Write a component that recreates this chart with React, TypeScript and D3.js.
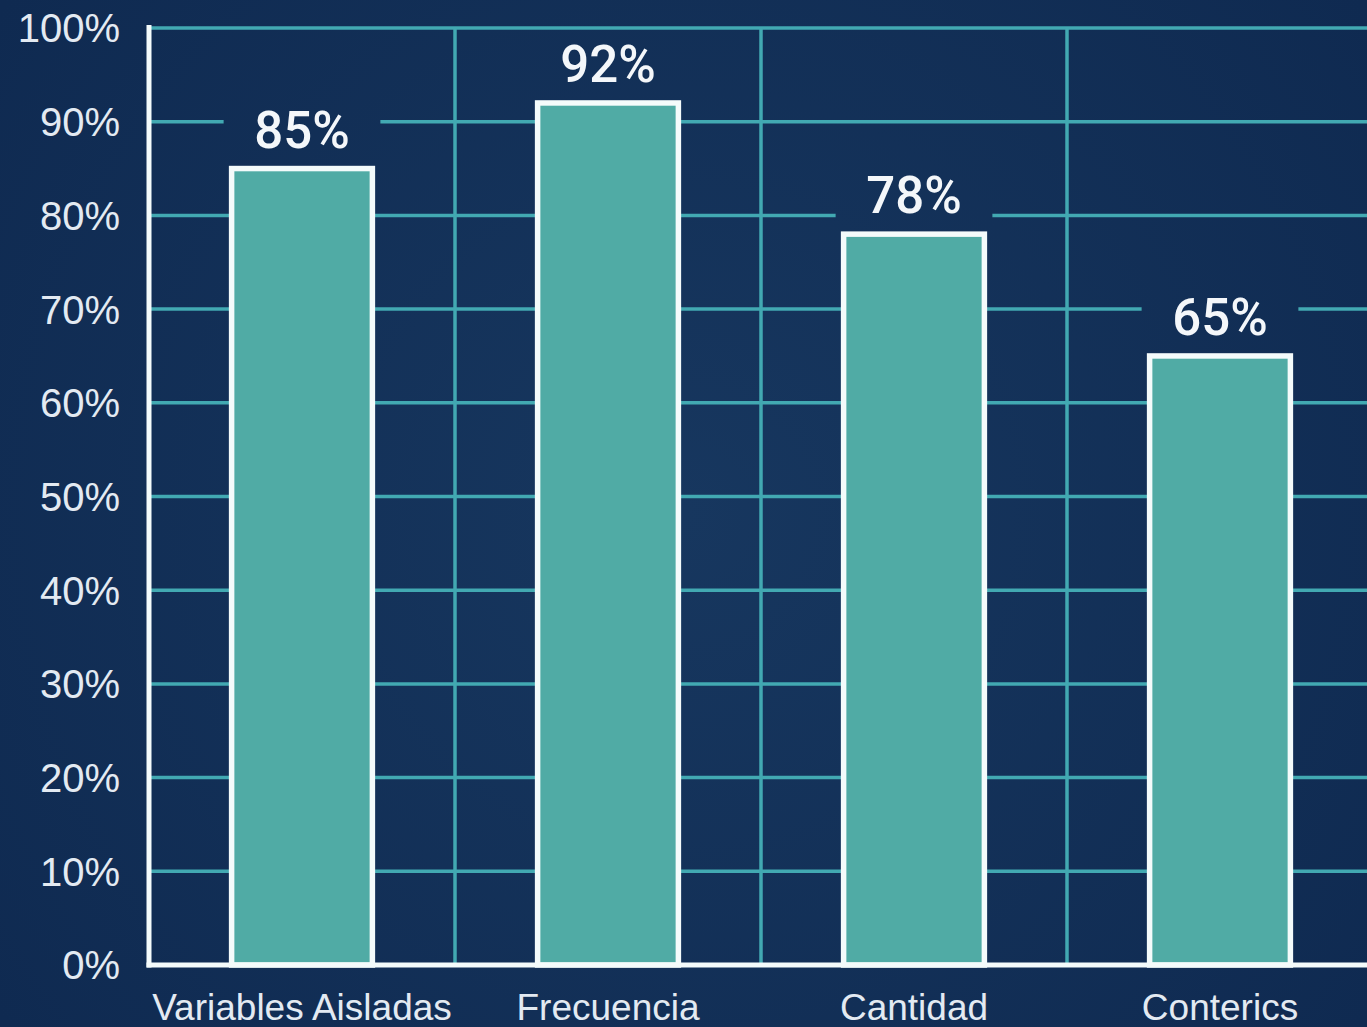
import React, { useEffect, useRef } from 'react';
import * as d3 from 'd3';

const categories = ['Variables Aisladas', 'Frecuencia', 'Cantidad', 'Conterics'];
const values = [85, 92, 78, 65];
const yTicks = [0, 10, 20, 30, 40, 50, 60, 70, 80, 90, 100];

const App: React.FC = () => {
  const svgRef = useRef<SVGSVGElement | null>(null);

  useEffect(() => {
    const width = 1367;
    const height = 1027;
    const margin = { top: 28, left: 149, bottom: 62 };
    const svg = d3.select(svgRef.current);
    svg.selectAll('*').remove();

    const grid = '#42a9b2';
    const font = '"Liberation Sans", Arial, sans-serif';

    // Background with a soft vignette (user space so label boxes match it)
    const defs = svg.append('defs');
    const grad = defs
      .append('radialGradient')
      .attr('id', 'bg')
      .attr('gradientUnits', 'userSpaceOnUse')
      .attr('cx', width / 2)
      .attr('cy', height / 2)
      .attr('r', 850);
    grad.append('stop').attr('offset', '0%').attr('stop-color', '#17375f');
    grad.append('stop').attr('offset', '100%').attr('stop-color', '#0f2a51');
    svg.append('rect').attr('width', width).attr('height', height).attr('fill', 'url(#bg)');

    const x = d3
      .scaleBand()
      .domain(categories)
      .range([margin.left, margin.left + 4 * 306])
      .paddingInner(0.54)
      .paddingOuter(0.27);

    const y = d3
      .scaleLinear()
      .domain([0, 100])
      .range([height - margin.bottom, margin.top]);

    const step = x.step();

    // Horizontal grid
    svg
      .append('g')
      .selectAll('line')
      .data(yTicks.filter((t) => t > 0))
      .join('line')
      .attr('x1', margin.left)
      .attr('x2', width)
      .attr('y1', (d) => y(d))
      .attr('y2', (d) => y(d))
      .attr('stroke', grid)
      .attr('stroke-width', 3.5);

    // Vertical grid at category boundaries
    svg
      .append('g')
      .selectAll('line')
      .data(categories.slice(0, -1))
      .join('line')
      .attr('x1', (d) => x(d)! + x.bandwidth() / 2 + step / 2)
      .attr('x2', (d) => x(d)! + x.bandwidth() / 2 + step / 2)
      .attr('y1', y(100))
      .attr('y2', y(0))
      .attr('stroke', grid)
      .attr('stroke-width', 3.5);

    // Y tick labels
    svg
      .append('g')
      .selectAll('text')
      .data(yTicks)
      .join('text')
      .attr('x', 120)
      .attr('y', (d) => y(d))
      .attr('dy', '0.36em')
      .attr('text-anchor', 'end')
      .attr('fill', '#e3eaf2')
      .attr('font-family', font)
      .attr('font-size', 40)
      .text((d) => `${d}%`);

    const data = categories.map((c, i) => ({ cat: c, value: values[i] }));

    // Label backing boxes hide grid lines behind value labels
    svg
      .append('g')
      .selectAll('rect')
      .data(data)
      .join('rect')
      .attr('x', (d) => x(d.cat)! - 8)
      .attr('width', x.bandwidth() + 16)
      .attr('y', (d) => y(d.value) - 64)
      .attr('height', 64)
      .attr('fill', 'url(#bg)');

    // Bars
    svg
      .append('g')
      .selectAll('rect')
      .data(data)
      .join('rect')
      .attr('x', (d) => x(d.cat)!)
      .attr('width', x.bandwidth())
      .attr('y', (d) => y(d.value))
      .attr('height', (d) => y(0) - y(d.value))
      .attr('fill', '#50aba5')
      .attr('stroke', '#f4fbfb')
      .attr('stroke-width', 5.5);

    // Value labels
    svg
      .append('g')
      .selectAll('text')
      .data(data)
      .join('text')
      .attr('x', (d) => x(d.cat)! + x.bandwidth() / 2)
      .attr('y', (d) => y(d.value) - 21)
      .attr('text-anchor', 'middle')
      .attr('fill', '#f4f7fa')
      .attr('font-family', 'Roboto, "Liberation Sans", sans-serif')
      .attr('font-weight', 500)
      .attr('font-size', 51)
      .text((d) => `${d.value}%`);

    // Axes lines
    svg
      .append('line')
      .attr('x1', margin.left)
      .attr('x2', margin.left)
      .attr('y1', y(100) - 3)
      .attr('y2', y(0) + 2.5)
      .attr('stroke', '#f4fbfb')
      .attr('stroke-width', 5);
    svg
      .append('line')
      .attr('x1', margin.left - 2.5)
      .attr('x2', width)
      .attr('y1', y(0))
      .attr('y2', y(0))
      .attr('stroke', '#f4fbfb')
      .attr('stroke-width', 5);

    // Category labels
    svg
      .append('g')
      .selectAll('text')
      .data(categories)
      .join('text')
      .attr('x', (d) => x(d)! + x.bandwidth() / 2)
      .attr('y', 1020)
      .attr('text-anchor', 'middle')
      .attr('fill', '#e3eaf2')
      .attr('font-family', font)
      .attr('font-size', 37)
      .text((d) => d);
  }, []);

  return (
    <svg
      ref={svgRef}
      width={1367}
      height={1027}
      style={{ position: 'absolute', left: 0, top: 0, display: 'block' }}
    />
  );
};

export default App;
